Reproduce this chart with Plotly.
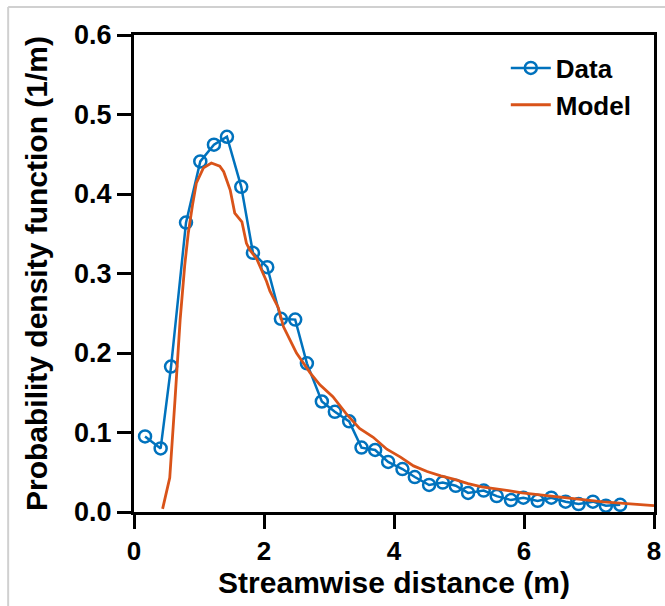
import plotly.graph_objects as go

# Data series
data_x = [0.17, 0.41, 0.57, 0.80, 1.02, 1.23, 1.43, 1.65, 1.83, 2.05, 2.26, 2.48, 2.66,
          2.89, 3.09, 3.31, 3.50, 3.71, 3.91, 4.13, 4.32, 4.54, 4.75, 4.95, 5.14, 5.38,
          5.58, 5.80, 5.99, 6.21, 6.42, 6.64, 6.84, 7.06, 7.26, 7.48]
data_y = [0.095, 0.080, 0.183, 0.364, 0.441, 0.462, 0.472, 0.409, 0.326, 0.308, 0.243, 0.242, 0.187,
          0.139, 0.126, 0.114, 0.081, 0.078, 0.063, 0.054, 0.044, 0.034, 0.037, 0.033, 0.024, 0.027,
          0.020, 0.015, 0.018, 0.014, 0.018, 0.013, 0.010, 0.013, 0.008, 0.009]

model_x = [0.44, 0.55, 0.63, 0.71, 0.78, 0.835, 0.90, 0.96, 1.07, 1.19, 1.32, 1.38, 1.48, 1.55,
           1.66, 1.73, 1.78, 1.89, 2.04, 2.09, 2.22, 2.30, 2.50, 2.71, 2.86, 3.06, 3.26, 3.47,
           3.68, 3.89, 4.10, 4.30, 4.51, 4.72, 4.93, 5.14, 5.35, 5.56, 5.76, 5.97, 6.18, 6.38,
           6.59, 6.80, 7.01, 7.22, 7.42, 7.63, 7.89, 8.0]
model_y = [0.004, 0.043, 0.140, 0.242, 0.310, 0.351, 0.386, 0.414, 0.433, 0.439, 0.435, 0.428, 0.405, 0.376,
           0.365, 0.338, 0.330, 0.318, 0.290, 0.278, 0.257, 0.233, 0.200, 0.175, 0.160, 0.145, 0.124, 0.105,
           0.094, 0.079, 0.069, 0.058, 0.051, 0.0455, 0.041, 0.0357, 0.0315, 0.0294, 0.027, 0.024, 0.022, 0.020,
           0.018, 0.0158, 0.0145, 0.0128, 0.0116, 0.0103, 0.0086, 0.008]

x_ticks = [0, 2, 4, 6, 8]
y_ticks = [0.0, 0.1, 0.2, 0.3, 0.4, 0.5, 0.6]
y_tick_labels = ["0.0", "0.1", "0.2", "0.3", "0.4", "0.5", "0.6"]

BLUE = "#0072BD"
ORANGE = "#D95319"
FONT = "Liberation Sans, Arial, sans-serif"

fig = go.Figure()
fig.add_trace(go.Scatter(
    x=data_x, y=data_y, name="Data", mode="lines+markers",
    line=dict(color=BLUE, width=2.5),
    marker=dict(symbol="circle-open", size=12, color=BLUE, line=dict(width=2.5, color=BLUE)),
))
fig.add_trace(go.Scatter(
    x=model_x, y=model_y, name="Model", mode="lines",
    line=dict(color=ORANGE, width=2.8),
))

axis_common = dict(
    showline=True, linecolor="black", linewidth=3, mirror=True,
    ticks="outside", ticklen=14, tickwidth=3, tickcolor="black",
    showgrid=False, zeroline=False, automargin=False,
)

fig.update_xaxes(
    range=[0, 8], tickvals=x_ticks,
    tickfont=dict(family=FONT, size=26, color="black", weight="bold"),
    title=dict(text="Streamwise distance (m)",
               font=dict(family=FONT, size=30, color="black", weight="bold"), standoff=4),
    **axis_common,
)
fig.update_yaxes(
    range=[0, 0.6], tickvals=y_ticks, ticktext=y_tick_labels,
    tickfont=dict(family=FONT, size=27, color="black", weight="bold"),
    title=dict(text="Probability density function (1/m)",
               font=dict(family=FONT, size=30, color="black", weight="bold"), standoff=18),
    **axis_common,
)

# light grey frame (left and top edges)
fig.add_shape(type="line", xref="paper", yref="paper", x0=-0.242, x1=1.05, y0=1.0586, y1=1.0586,
              line=dict(color="#d0d0d0", width=2))
fig.add_shape(type="line", xref="paper", yref="paper", x0=-0.242, x1=-0.242, y0=-0.2, y1=1.0586,
              line=dict(color="#d0d0d0", width=2))

fig.update_layout(
    width=665, height=606,
    margin=dict(l=134, r=11, t=35, b=93.5),
    plot_bgcolor="white", paper_bgcolor="white",
    font=dict(family=FONT, color="black"),
    legend=dict(x=0.715, y=0.98, xanchor="left", yanchor="top",
                font=dict(family=FONT, size=26, color="black", weight="bold"),
                bgcolor="rgba(0,0,0,0)", tracegroupgap=0, itemwidth=40),
    showlegend=True,
)

fig.write_html("out.html")
